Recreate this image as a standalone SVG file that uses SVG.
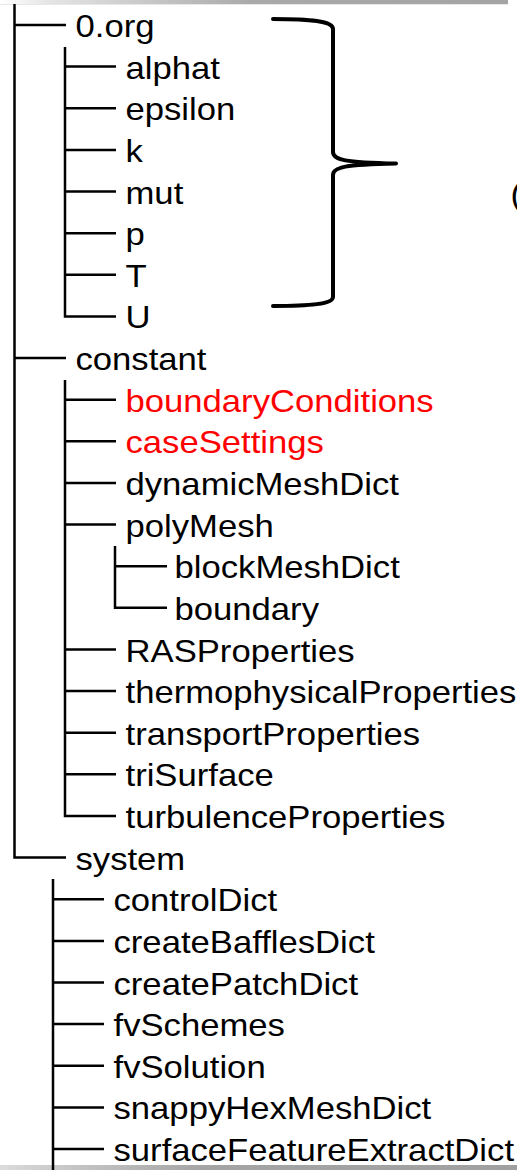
<svg xmlns="http://www.w3.org/2000/svg" width="517" height="1170" viewBox="0 0 517 1170">
<defs>
<linearGradient id="topgrad" x1="0" y1="0" x2="1" y2="0">
<stop offset="0" stop-color="#ffffff"/>
<stop offset="0.1" stop-color="#e4e4e4"/>
<stop offset="0.5" stop-color="#a9a9a9"/>
<stop offset="1" stop-color="#a4a4a4"/>
</linearGradient>
<linearGradient id="botgrad" x1="0" y1="0" x2="1" y2="0">
<stop offset="0" stop-color="#dcdcdc"/>
<stop offset="0.12" stop-color="#c8c8c8"/>
<stop offset="0.4" stop-color="#a4a4a4"/>
<stop offset="1" stop-color="#a0a0a0"/>
</linearGradient>
<style>
text{font-family:"Liberation Sans",Arial,Helvetica,sans-serif;font-size:31.5px;fill:#000}
text.red{fill:#ff0000}
.ln{fill:none;stroke:#000;stroke-width:2.5}
.brace{fill:none;stroke:#000;stroke-width:4;stroke-linecap:round;stroke-linejoin:round}
</style>
</defs>
<rect x="0" y="0" width="508" height="4" fill="url(#topgrad)"/>
<rect x="0" y="4" width="508" height="1" fill="#e8e8e8"/>
<rect x="0" y="1165" width="517" height="5" fill="url(#botgrad)"/>
<g id="connectors">
<path class="ln" d="M14.5,4 V857.6 H66"/>
<path class="ln" d="M14.5,25 H66"/>
<path class="ln" d="M14.5,358 H66"/>
<path class="ln" d="M65,47 V316.4 H116"/>
<path class="ln" d="M65,66.6 H116 M65,108.3 H116 M65,149.9 H116 M65,191.5 H116 M65,233.2 H116 M65,274.8 H116"/>
<path class="ln" d="M65,380 V816 H116"/>
<path class="ln" d="M65,399.7 H116 M65,441.3 H116 M65,482.9 H116 M65,524.6 H116 M65,649.5 H116 M65,691.1 H116 M65,732.7 H116 M65,774.3 H116"/>
<path class="ln" d="M115,546 V607.8 H167"/>
<path class="ln" d="M115,566.2 H167"/>
<path class="ln" d="M53,879 V1170"/>
<path class="ln" d="M53,899.2 H104 M53,940.9 H104 M53,982.5 H104 M53,1024.1 H104 M53,1065.8 H104 M53,1107.4 H104 M53,1149 H104"/>
</g>
<g id="brace">
<path class="brace" d="M273,19 C310,19 333,21 333,29 L333,152 C333,160 345,162.5 396,163.5 C345,164.5 333,167 333,175 L333,297 C333,304 310,306 273,306"/>
</g>
<g id="n-paren"><text transform="translate(510.5,205) scale(1.1,1)">(</text></g>
<g id="n-0org"><text transform="translate(75.5,37) scale(1.1,1)">0.org</text></g>
<g id="n-alphat"><text transform="translate(125.5,78.6) scale(1.1,1)">alphat</text></g>
<g id="n-epsilon"><text transform="translate(125.5,120.3) scale(1.1,1)">epsilon</text></g>
<g id="n-k"><text transform="translate(125.5,161.9) scale(1.1,1)">k</text></g>
<g id="n-mut"><text transform="translate(125.5,203.5) scale(1.1,1)">mut</text></g>
<g id="n-p"><text transform="translate(125.5,245.2) scale(1.1,1)">p</text></g>
<g id="n-T"><text transform="translate(125.5,286.8) scale(1.1,1)">T</text></g>
<g id="n-U"><text transform="translate(125.5,328.4) scale(1.1,1)">U</text></g>
<g id="n-constant"><text transform="translate(75.5,370) scale(1.1,1)">constant</text></g>
<g id="n-boundaryConditions"><text class="red" transform="translate(125.5,411.7) scale(1.1,1)">boundaryConditions</text></g>
<g id="n-caseSettings"><text class="red" transform="translate(125.5,453.3) scale(1.1,1)">caseSettings</text></g>
<g id="n-dynamicMeshDict"><text transform="translate(125.5,494.9) scale(1.1,1)">dynamicMeshDict</text></g>
<g id="n-polyMesh"><text transform="translate(125.5,536.6) scale(1.1,1)">polyMesh</text></g>
<g id="n-blockMeshDict"><text transform="translate(174.5,578.2) scale(1.1,1)">blockMeshDict</text></g>
<g id="n-boundary"><text transform="translate(174.5,619.8) scale(1.1,1)">boundary</text></g>
<g id="n-RASProperties"><text transform="translate(125.5,661.5) scale(1.1,1)">RASProperties</text></g>
<g id="n-thermophysicalProperties"><text transform="translate(125.5,703.1) scale(1.1,1)">thermophysicalProperties</text></g>
<g id="n-transportProperties"><text transform="translate(125.5,744.7) scale(1.1,1)">transportProperties</text></g>
<g id="n-triSurface"><text transform="translate(125.5,786.3) scale(1.1,1)">triSurface</text></g>
<g id="n-turbulenceProperties"><text transform="translate(125.5,828) scale(1.1,1)">turbulenceProperties</text></g>
<g id="n-system"><text transform="translate(75.5,869.6) scale(1.1,1)">system</text></g>
<g id="n-controlDict"><text transform="translate(113.5,911.2) scale(1.1,1)">controlDict</text></g>
<g id="n-createBafflesDict"><text transform="translate(113.5,952.9) scale(1.1,1)">createBafflesDict</text></g>
<g id="n-createPatchDict"><text transform="translate(113.5,994.5) scale(1.1,1)">createPatchDict</text></g>
<g id="n-fvSchemes"><text transform="translate(113.5,1036.1) scale(1.1,1)">fvSchemes</text></g>
<g id="n-fvSolution"><text transform="translate(113.5,1077.8) scale(1.1,1)">fvSolution</text></g>
<g id="n-snappyHexMeshDict"><text transform="translate(113.5,1119.4) scale(1.1,1)">snappyHexMeshDict</text></g>
<g id="n-surfaceFeatureExtractDict"><text transform="translate(113.5,1161) scale(1.1,1)">surfaceFeatureExtractDict</text></g>
</svg>
